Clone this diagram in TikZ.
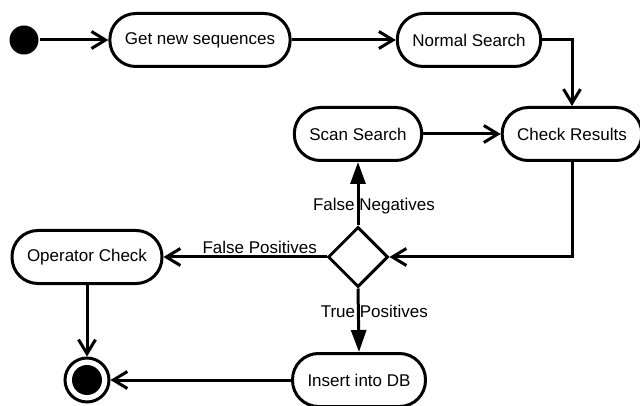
\documentclass[tikz,border=0pt]{standalone}
\usepackage{fontspec}
\setmainfont{Liberation Sans}
\usetikzlibrary{shapes.geometric,arrows.meta}
\begin{document}
\begin{tikzpicture}[x=1pt,y=-1pt,line width=3pt,
        font=\fontsize{17}{20}\selectfont,
        activity/.style={draw,rectangle,rounded corners=26pt,minimum height=53pt,inner xsep=15pt,fill=white},
        choice/.style={draw,diamond,aspect=1,minimum size=60pt,inner sep=0pt,fill=white},
        startstate/.style={circle,fill,minimum size=29pt,inner sep=0pt},
        endstate/.style={circle,draw,minimum size=44pt,inner sep=0pt,
            path picture={\fill (path picture bounding box.center) circle (15pt);}},
        opentip/.style={-{Straight Barb[length=14pt,width=17pt]}},
        filltip/.style={-{Triangle[length=22pt,width=15pt]}},
        guard/.style={inner sep=2pt}]
    \useasboundingbox (0,0) rectangle (640,406);
    \node[startstate] (start) at (24,40) {};
    \node[activity] (getseq) at (200,40) {Get new sequences};
    \node[activity] (normal) at (469,40) {Normal Search};
    \node[activity] (scan) at (358,134) {Scan Search};
    \node[activity] (check) at (572,134) {Check Results};
    \node[choice] (decide) at (358,257) {};
    \node[activity] (operator) at (87,257) {Operator Check};
    \node[activity] (insert) at (359,380) {Insert into DB};
    \node[endstate] (stop) at (87,380) {};
    \draw[opentip] (start) -- (getseq);
    \draw[opentip] (getseq) -- (normal);
    \draw[opentip] (normal.east) -| (check.north);
    \draw[opentip] (scan) -- (check);
    \draw[opentip] (check.south) |- (decide.east);
    \draw[filltip] (decide.north) -- node[guard,pos=0.31,xshift=16pt] {False Negatives} (scan.south);
    \draw[opentip] (decide.west) -- node[guard,pos=0.41,above] {False Positives} (operator.east);
    \draw[filltip] (decide.south) -- node[guard,pos=0.36,xshift=16pt] {True Positives} (insert.north);
    \draw[opentip] (operator.south) -- (stop.north);
    \draw[opentip] (insert.west) -- (stop.east);
\end{tikzpicture}
\end{document}
